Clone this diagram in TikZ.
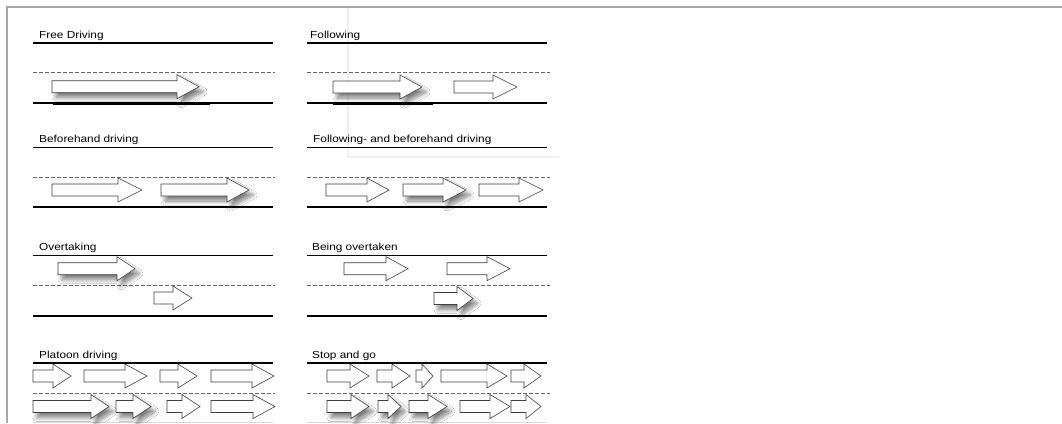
\documentclass[tikz,border=0pt]{standalone}
\usepackage{fontspec}
\setmainfont{Liberation Sans}
\usetikzlibrary{shadows.blur}
\tikzset{
  arr/.style={draw=black!75, line width=0.6pt, fill=white},
  arrsh/.style={blur shadow={shadow xshift=4pt, shadow yshift=-5pt, shadow blur radius=4pt, shadow blur steps=14, shadow opacity=50}},
  road/.style={draw=black, line width=1.9pt},
  lane/.style={draw=black!60, line width=0.9pt, dash pattern=on 3.5pt off 2.5pt},
  tail/.style={draw=black, line width=3pt},
  lbl/.style={anchor=base west, inner sep=0pt, font=\fontsize{10.2}{12}\selectfont},
  frame/.style={draw=black!35, line width=2pt}
}
\newcommand\carrow[5][]{\path[arr,#1] (#2,#5-6) -- (#3,#5-6) -- (#3,#5-12) -- (#4,#5) -- (#3,#5+12) -- (#3,#5+6) -- (#2,#5+6) -- cycle;}
\newcommand\lbltext[1]{\scalebox{1.16}[1]{#1}}
\begin{document}
\begin{tikzpicture}[x=1pt,y=-1pt]
\useasboundingbox (0,0) rectangle (1062,423);
\fill[white] (0,0) rectangle (1062,423);
% frame
\path[frame] (6.5,423) -- (6.5,6.5) -- (1062,6.5);
% faint box
\path[draw=black!6, line width=1.5pt] (348,8) -- (348,157) -- (559,157);

% ---------- Row 1 ----------
\node[lbl] (l1) at (39,38) {\lbltext{Free Driving}};
\path[road] (33,42.7) -- (273,42.7);
\path[lane] (33,72.7) -- (275,72.7);
\path[road] (33,103.3) -- (273,103.3);
\carrow[arrsh]{52}{177}{199}{86.7}
\path[tail] (53,103.3) -- (210,103.3);

\node[lbl] (l2) at (310,38) {\lbltext{Following}};
\path[road] (307,42.7) -- (547,42.7);
\path[lane] (307,72.7) -- (550,72.7);
\path[road] (307,103.3) -- (547,103.3);
\carrow[arrsh]{333}{400}{422}{87}
\carrow{454}{493}{517}{87}
\path[tail] (333,103.3) -- (433,103.3);

% ---------- Row 2 ----------
\node[lbl] (l3) at (39,142.5) {\lbltext{Beforehand driving}};
\path[road] (33,147.5) -- (273,147.5);
\path[lane] (33,177) -- (275,177);
\path[road] (33,207.3) -- (273,207.3);
\carrow{52}{118}{142}{190}
\carrow[arrsh]{161}{227}{249}{190}
\path[tail, line width=2.2pt] (161,207) -- (260,207);

\node[lbl] (l4) at (313,142.5) {\lbltext{Following- and beforehand driving}};
\path[road] (307,147.5) -- (547,147.5);
\path[lane] (307,177) -- (550,177);
\path[road] (307,207.3) -- (547,207.3);
\carrow{326}{367}{389}{190}
\carrow[arrsh]{403}{443}{466}{190}
\carrow{479}{519}{543}{190}
\path[tail, line width=2.2pt] (404,207) -- (477,207);

% ---------- Row 3 ----------
\node[lbl] (l5) at (39,250.5) {\lbltext{Overtaking}};
\path[road] (33,255.5) -- (273,255.5);
\path[lane] (33,285.7) -- (275,285.7);
\path[road] (33,316) -- (273,316);
\carrow[arrsh]{58}{117}{135}{268.7}
\carrow{154}{173}{192}{298}

\node[lbl] (l6) at (312,250.5) {\lbltext{Being overtaken}};
\path[road] (307,255.5) -- (547,255.5);
\path[lane] (307,285.7) -- (550,285.7);
\path[road] (307,316) -- (547,316);
\carrow{344}{386}{408}{268.7}
\carrow{447}{487}{510}{268.7}
\carrow[arrsh]{434}{457}{473}{298.5}
\path[tail, line width=2.2pt] (436,316) -- (483,316);

% ---------- Row 4 ----------
\node[lbl] (l7) at (39,358.3) {\lbltext{Platoon driving}};
\path[road] (33,363.3) -- (273,363.3);
\path[lane] (33,393.3) -- (275,393.3);
\path[draw=black!15, line width=1pt] (33,422) -- (273,422);
\carrow{33}{53}{71}{376}
\carrow{84}{125}{147}{376}
\carrow{160}{178}{197}{376}
\carrow{211}{252}{274}{376}
\carrow[arrsh]{33}{91}{109}{406.5}
\carrow[arrsh]{116}{133}{151}{406.5}
\carrow{167}{182}{200}{406.5}
\carrow{211}{253}{275}{406.5}

\node[lbl] (l8) at (312,358.3) {\lbltext{Stop and go}};
\path[road] (307,363.3) -- (547,363.3);
\path[lane] (307,393.3) -- (550,393.3);
\path[draw=black!15, line width=1pt] (307,422) -- (547,422);
\carrow{327}{350}{369}{376}
\carrow{377}{392}{410}{376}
\carrow{416}{422}{433}{376}
\carrow{441}{487}{507}{376}
\carrow{511}{524}{541}{376}
\carrow[arrsh]{327}{351}{369}{406.5}
\carrow[arrsh]{378}{388}{401}{406.5}
\carrow[arrsh]{409}{428}{447}{406.5}
\carrow{460}{490}{510}{406.5}
\carrow{511}{526}{541}{406.5}
\end{tikzpicture}
\end{document}
